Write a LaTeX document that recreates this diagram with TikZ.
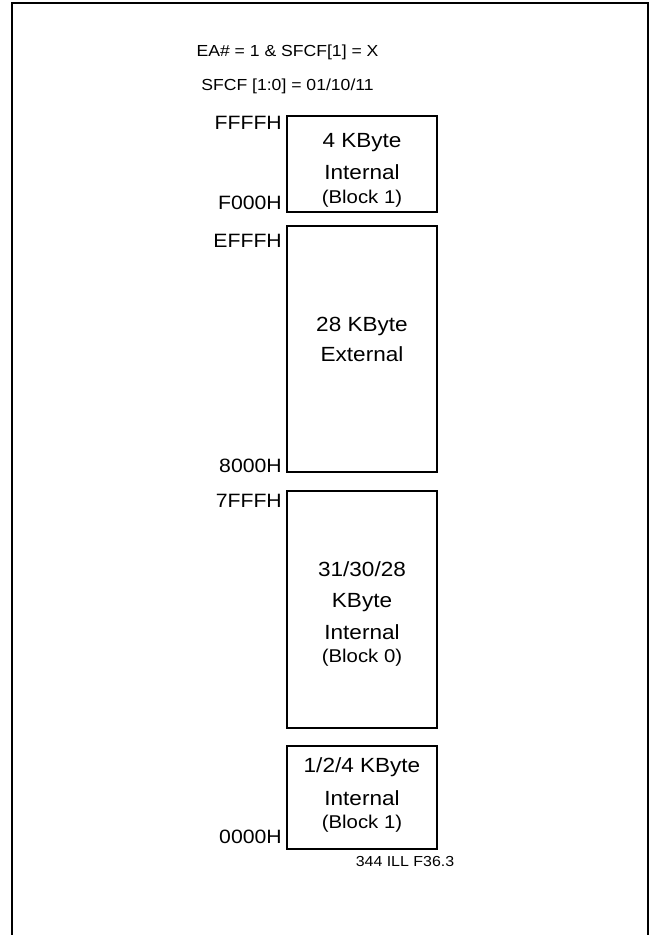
\documentclass[tikz,border=0pt]{standalone}
\usepackage{fontspec}
\setmainfont{Liberation Sans}[FakeStretch=1.1]
\usetikzlibrary{calc}
\newcommand{\bigtxt}{\fontsize{20.5}{24}\selectfont}
\newcommand{\blktxt}{\fontsize{18.5}{22}\selectfont}
\newcommand{\adrtxt}{\fontsize{19.3}{23}\selectfont}

\begin{document}
\begin{tikzpicture}[x=1pt,y=1pt,
  mem/.style={draw,line width=1.3pt,minimum width=150pt,inner sep=0pt},
  adr/.style={anchor=base east,inner sep=0pt,font=\adrtxt},
  lbl/.style={anchor=base,inner sep=0pt,font=\bigtxt},
  blk/.style={anchor=base,inner sep=0pt,font=\blktxt}]
  \useasboundingbox (0,0) rectangle (651,935);
  % outer frame, open at the bottom
  \draw[line width=2.4pt] (12,-5) -- (12,932) -- (648,932) -- (648,-5);
  \node[anchor=base,font=\fontsize{16}{19}\selectfont] (cond) at (287.5,878) {EA\# = 1 \& SFCF[1] = X};
  \node[anchor=base,font=\fontsize{16}{19}\selectfont] (sfcf) at (287.5,844) {SFCF [1:0] = 01/10/11};
  % memory blocks
  \node[mem,minimum height=96pt] (b1) at (362,771) {};
  \node[mem,minimum height=246pt] (ext) at (362,586) {};
  \node[mem,minimum height=237pt] (b0) at (362,325.5) {};
  \node[mem,minimum height=103pt] (b1lo) at (362,137.5) {};
  \node[lbl] (b1a) at (362,787) {4 KByte};
  \node[lbl] (b1b) at (362,755) {Internal};
  \node[blk] (b1c) at (362,731) {(Block 1)};
  \node[lbl] (exta) at (362,603) {28 KByte};
  \node[lbl] (extb) at (362,573) {External};
  \node[lbl] (b0a) at (362,358) {31/30/28};
  \node[lbl] (b0b) at (362,327) {KByte};
  \node[lbl] (b0c) at (362,295) {Internal};
  \node[blk] (b0d) at (362,272) {(Block 0)};
  \node[lbl] (b1loa) at (362,162) {1/2/4 KByte};
  \node[lbl] (b1lob) at (362,129) {Internal};
  \node[blk] (b1loc) at (362,106) {(Block 1)};
  % addresses
  \node[adr] (aFFFF) at (282,805) {FFFFH};
  \node[adr] (aF000) at (282,725) {F000H};
  \node[adr] (aEFFF) at (282,687) {EFFFH};
  \node[adr] (a8000) at (282,462) {8000H};
  \node[adr] (a7FFF) at (282,427) {7FFFH};
  \node[adr] (a0000) at (282,91) {0000H};
  \node[anchor=base,font=\fontsize{14.5}{17}\selectfont] (ill) at (405,68) {344 ILL F36.3};
\end{tikzpicture}
\end{document}
